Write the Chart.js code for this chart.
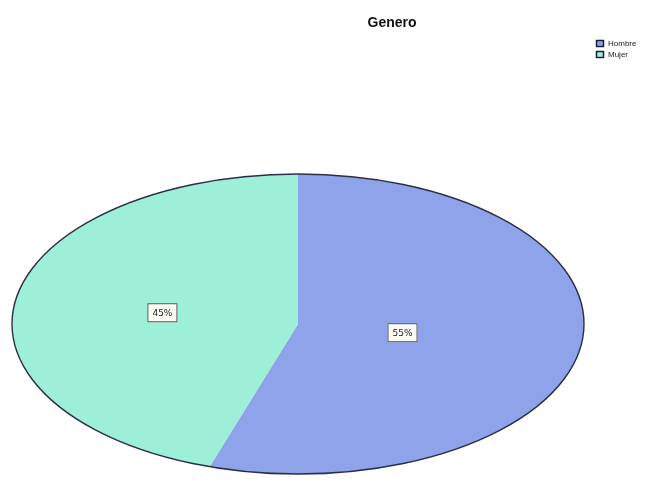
<!DOCTYPE html>
<html>
<head>
<meta charset="utf-8">
<script src="https://cdn.jsdelivr.net/npm/chart.js@4/dist/chart.umd.min.js"></script>
<style>
  html, body { margin: 0; padding: 0; background: #fff; }
  #wrap { width: 660px; height: 481px; }
</style>
</head>
<body>
<div id="wrap"><canvas id="pie" width="660" height="481"></canvas></div>
<script>
const categories = ['Hombre', 'Mujer'];
const percents = [55, 45];
const sliceColors = ['#8fa3ea', '#9eefd7'];

// pie is drawn as a circle of radius 150 and stretched sideways into an ellipse
const stretchX = 286 / 150;
// how far out from the center each percent label sits (share of radius)
const labelDepth = [0.37, 0.48];

const ellipsePlugin = {
  id: 'ellipse',
  beforeDatasetsDraw(chart) {
    const arc = chart.getDatasetMeta(0).data[0];
    const ctx = chart.ctx;
    ctx.save();
    ctx.translate(arc.x, arc.y);
    ctx.scale(stretchX, 1);
    ctx.translate(-arc.x, -arc.y);
  },
  afterDatasetsDraw(chart) {
    const ctx = chart.ctx;
    ctx.restore();
    const arc = chart.getDatasetMeta(0).data[0];
    ctx.save();
    ctx.beginPath();
    ctx.ellipse(arc.x, arc.y, arc.outerRadius * stretchX, arc.outerRadius, 0, 0, Math.PI * 2);
    ctx.strokeStyle = '#2b2f45';
    ctx.lineWidth = 1.4;
    ctx.stroke();
    ctx.restore();
  },
  afterDraw(chart) {
    const ctx = chart.ctx;
    const meta = chart.getDatasetMeta(0);
    ctx.save();

    // percent boxes
    ctx.font = '9px "DejaVu Sans", sans-serif';
    ctx.textAlign = 'center';
    ctx.textBaseline = 'middle';
    meta.data.forEach((arc, i) => {
      const mid = (arc.startAngle + arc.endAngle) / 2;
      const r = arc.outerRadius * labelDepth[i];
      const px = arc.x + Math.cos(mid) * r * stretchX;
      const py = arc.y + Math.sin(mid) * r;
      const txt = percents[i] + '%';
      const w = 30, h = 19;
      ctx.fillStyle = '#fbfbf6';
      ctx.fillRect(px - w / 2, py - h / 2, w, h);
      ctx.strokeStyle = '#555';
      ctx.lineWidth = 1;
      ctx.strokeRect(px - w / 2 + 0.5, py - h / 2 + 0.5, w - 1, h - 1);
      ctx.fillStyle = '#222';
      ctx.fillText(txt, px, py + 1);
    });

    // title
    ctx.font = 'bold 14px "Liberation Sans", Arial, sans-serif';
    ctx.fillStyle = '#111';
    ctx.fillText('Genero', 392, 23);

    // legend
    ctx.font = '8px "Liberation Sans", Arial, sans-serif';
    ctx.textAlign = 'left';
    categories.forEach((name, i) => {
      const y = 40 + i * 11;
      ctx.fillStyle = sliceColors[i];
      ctx.fillRect(596, y, 8, 7);
      ctx.strokeStyle = '#1c1f38';
      ctx.lineWidth = 1.5;
      ctx.strokeRect(596.5, y + 0.5, 7, 6);
      ctx.fillStyle = '#222';
      ctx.fillText(name, 608, y + 4);
    });
    ctx.restore();
  }
};

new Chart(document.getElementById('pie'), {
  type: 'pie',
  data: {
    labels: categories,
    datasets: [{
      data: percents,
      backgroundColor: sliceColors,
      borderWidth: 0
    }]
  },
  options: {
    responsive: false,
    animation: false,
    layout: { padding: { left: 148, right: 212, top: 174, bottom: 7 } },
    plugins: {
      legend: { display: false },
      title: { display: false },
      tooltip: { enabled: false }
    }
  },
  plugins: [ellipsePlugin]
});
</script>
</body>
</html>
